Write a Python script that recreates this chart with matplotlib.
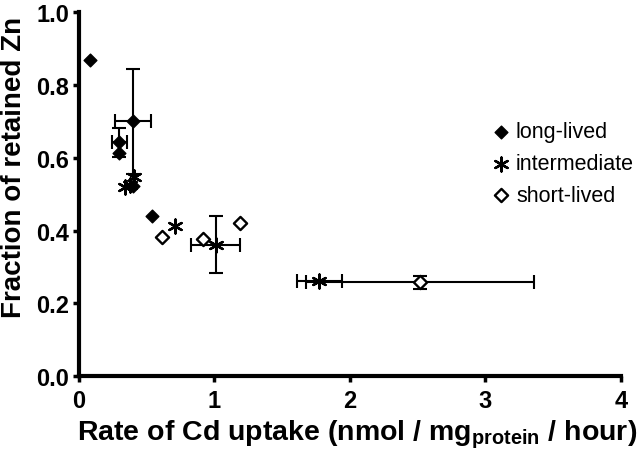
import numpy as np
import matplotlib
matplotlib.use("Agg")
import matplotlib.pyplot as plt

plt.rcParams['font.family'] = ['Liberation Sans', 'DejaVu Sans']
plt.rcParams['mathtext.fontset'] = 'custom'
plt.rcParams['mathtext.rm'] = 'Liberation Sans:bold'

# === data ===
long_x = [0.08, 0.30, 0.30, 0.40, 0.40, 0.54]
long_y = [0.87, 0.643, 0.613, 0.70, 0.523, 0.44]

inter_x = [0.345, 0.38, 0.405, 0.71, 1.01, 1.775]
inter_y = [0.521, 0.525, 0.548, 0.413, 0.361, 0.262]

short_x = [0.615, 0.92, 1.19, 2.52]
short_y = [0.381, 0.376, 0.42, 0.258]

# error bars: x, y, xerr, yerr
err_x = [0.40, 0.30, 1.01, 1.775, 2.52]
err_y = [0.70, 0.643, 0.361, 0.262, 0.258]
err_xe = [0.13, 0.053, 0.18, 0.165, 0.84]
err_ye = [0.145, 0.04, 0.078, 0.0, 0.018]

fig = plt.figure(figsize=(6.4, 4.56), dpi=100)
ax = fig.add_axes([0.123, 0.173, 0.847, 0.798])

ax.errorbar(err_x, err_y, xerr=err_xe, yerr=err_ye, fmt='none',
            ecolor='black', elinewidth=1.5, capsize=5, capthick=1.5, zorder=2)

ax.scatter(long_x, long_y, marker='D', s=42, color='black', zorder=3,
           label='long-lived')
ax.scatter(inter_x, inter_y, marker=(6, 2, 0), s=100, color='black',
           linewidths=1.7, zorder=3, label='intermediate')
ax.scatter(short_x, short_y, marker='D', s=45, facecolors='white',
           edgecolors='black', linewidths=1.7, zorder=3, label='short-lived')

ax.set_xlim(0, 4)
ax.set_ylim(0, 1.0)
ax.set_xticks([0, 1, 2, 3, 4])
ax.set_yticks(np.arange(0, 1.01, 0.2))
ax.set_yticklabels(['0.0', '0.2', '0.4', '0.6', '0.8', '1.0'])

for s in ['top', 'right']:
    ax.spines[s].set_visible(False)
for s in ['left', 'bottom']:
    ax.spines[s].set_linewidth(3)
ax.tick_params(width=2.5, length=4, labelsize=17, pad=3)
ax.tick_params(axis='x', pad=5)
for lab in ax.get_xticklabels() + ax.get_yticklabels():
    lab.set_fontweight('bold')

ax.set_xlabel(r'Rate of Cd uptake (nmol / mg$_{\mathrm{protein}}$ / hour)',
              fontsize=20.5, fontweight='bold')
ax.set_ylabel('Fraction of retained Zn', fontsize=20, fontweight='bold')
ax.xaxis.set_label_coords(0.514, -0.113, transform=ax.transAxes)
ax.yaxis.set_label_coords(-0.095, 0.575, transform=ax.transAxes)
ax.xaxis.label.set_va('top')

ax.legend(loc='upper left', bbox_to_anchor=(0.755, 0.70), frameon=False,
          fontsize=15.5, handletextpad=0.1, handlelength=1.2, labelspacing=0.5,
          borderaxespad=0, borderpad=0)

fig.savefig('out.png', dpi=100)
